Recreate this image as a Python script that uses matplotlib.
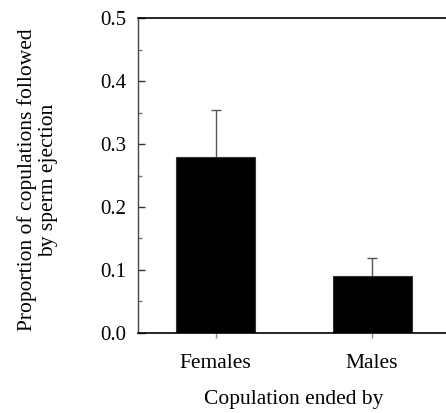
import matplotlib
matplotlib.use("Agg")
import matplotlib.pyplot as plt
from matplotlib.ticker import MultipleLocator

categories = ["Females", "Males"]
proportions = [0.28, 0.09]
errors = [0.074, 0.029]

plt.rcParams["font.family"] = ["Liberation Serif", "DejaVu Serif"]

fig = plt.figure(figsize=(4.46, 4.13), dpi=100)
ax = fig.add_axes([0.309, 0.194, 0.691, 0.762])

positions = range(len(categories))
# symmetric error bars drawn under the bars, so only the upper half shows
ax.errorbar(positions, proportions, yerr=errors, fmt="none",
            ecolor="#555555", elinewidth=1, capsize=3.3, capthick=1, zorder=1)
ax.bar(positions, proportions, width=0.505, color="black", edgecolor="#333333",
       linewidth=0.8, zorder=2)

ax.set_xlim(-0.497, 1.473)
ax.set_ylim(0, 0.5)
ax.set_xticks(list(positions))
ax.set_xticklabels(categories, fontsize=15.5)
ax.yaxis.set_major_locator(MultipleLocator(0.1))
ax.yaxis.set_minor_locator(MultipleLocator(0.05))
ax.set_yticklabels([f"{v:.1f}" for v in ax.get_yticks()], fontsize=15)
ax.tick_params(axis="y", which="major", direction="in", length=5, width=1, pad=8.5, color="#333333")
ax.tick_params(axis="y", which="minor", direction="in", length=3, width=1, color="#777777")
ax.tick_params(axis="x", direction="out", length=3.5, width=1, pad=12, color="#888888")
ax.spines["right"].set_visible(False)
ax.spines["left"].set_color("#444444")
ax.spines["left"].set_linewidth(1)
for s in ["top", "bottom"]:
    ax.spines[s].set_linewidth(1.2)

ax.set_xlabel("Copulation ended by", fontsize=15.5, va="top")
ax.xaxis.set_label_coords(0.507, -0.181)
ax.set_ylabel("Proportion of copulations followed\nby sperm ejection", fontsize=15.5, linespacing=1.2)
ax.yaxis.set_label_coords(-0.258, 0.486)

fig.savefig("out.png", dpi=100)
